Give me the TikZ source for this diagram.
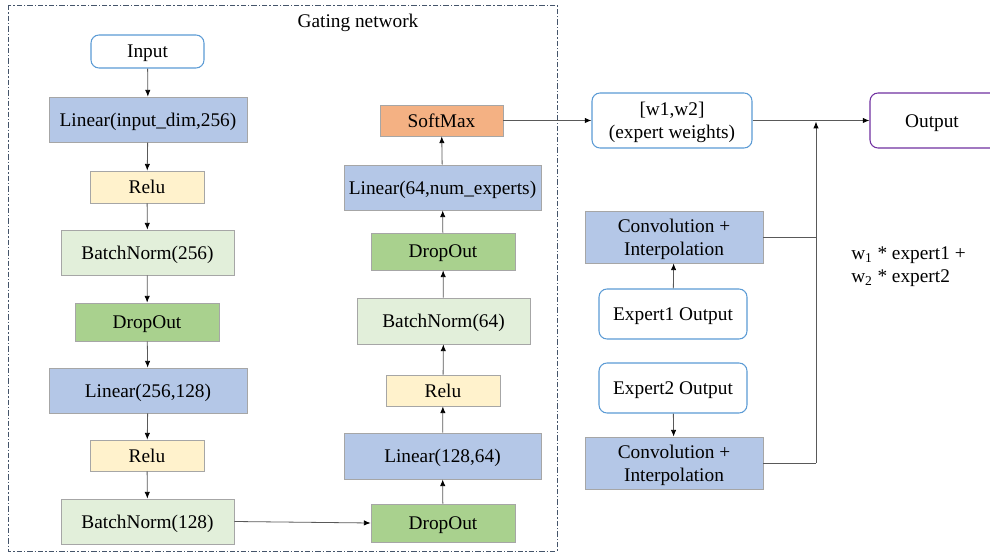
\documentclass[tikz,border=0pt]{standalone}
\usepackage{fontspec}
\setmainfont{Liberation Serif}
\newfontfamily\tnrfont{Liberation Serif}
\usetikzlibrary{arrows.meta}
\definecolor{cblue}{HTML}{B4C7E7}
\definecolor{cyellow}{HTML}{FFF2CC}
\definecolor{clgreen}{HTML}{E2EFDA}
\definecolor{cgreen}{HTML}{A9D18E}
\definecolor{corange}{HTML}{F4B183}
\definecolor{cborder}{HTML}{A6A6A6}
\definecolor{croundb}{HTML}{5B9BD5}
\definecolor{cpurple}{HTML}{7030A0}
\definecolor{cframe}{HTML}{44546A}
\tikzset{
  lbl/.style={font=\tnrfont\fontsize{14.5}{17.3}\selectfont, align=center, inner sep=0pt, text depth=0pt},
  boxf/.style={lbl, draw=cborder, line width=0.6pt},
  rbox/.style={lbl, draw=croundb, line width=0.8pt, rounded corners=6pt, fill=white},
  conn/.style={draw=black!65, line width=0.6pt, -{Latex[length=5pt,width=4pt,color=black]}},
  plain/.style={draw=black!65, line width=0.6pt},
}
\newcommand{\bx}[6]{\node[#6, minimum width=#3*0.75pt-#1*0.75pt, minimum height=#4*0.75pt-#2*0.75pt] (#5) at ({(#1+#3)/2},{(#2+#4)/2})}
\begin{document}
\begin{tikzpicture}[x=0.75pt,y=-0.75pt]
\useasboundingbox (0,0) rectangle (990,556);
% frame
\draw[cframe, line width=0.7pt, dash pattern=on 4pt off 1.5pt on 1pt off 1.5pt] (8,5) rectangle (557,551);
\node[lbl] (title) at (358,21) {Gating network};
% left column
\bx{91}{35}{204}{68}{in}{rbox} {Input};
\bx{49}{97}{247}{142}{l1}{boxf, fill=cblue} {Linear(input\_dim,256)};
\bx{90}{171}{204}{203}{r1}{boxf, fill=cyellow} {Relu};
\bx{61}{230}{234}{275}{b1}{boxf, fill=clgreen} {BatchNorm(256)};
\bx{75}{303}{219}{341}{d1}{boxf, fill=cgreen} {DropOut};
\bx{49}{368}{247}{413}{l2}{boxf, fill=cblue} {Linear(256,128)};
\bx{90}{440}{204}{471}{r2}{boxf, fill=cyellow} {Relu};
\bx{61}{499}{234}{544}{b2}{boxf, fill=clgreen} {BatchNorm(128)};
% right column
\bx{371}{504}{515}{542}{d2}{boxf, fill=cgreen} {DropOut};
\bx{344}{433}{541}{479}{l3}{boxf, fill=cblue} {Linear(128,64)};
\bx{386}{375}{500}{406}{r3}{boxf, fill=cyellow} {Relu};
\bx{357}{298}{530}{344}{b3}{boxf, fill=clgreen} {BatchNorm(64)};
\bx{371}{233}{515}{270}{d3}{boxf, fill=cgreen} {DropOut};
\bx{344}{165}{541}{210}{l4}{boxf, fill=cblue} {Linear(64,num\_experts)};
\bx{380}{105}{503}{136}{sm}{boxf, fill=corange} {SoftMax};
% right part
\bx{592}{93}{752}{148}{w}{rbox} {[w1,w2]\\(expert weights)};
\bx{870}{93}{1000}{148}{out}{rbox, draw=cpurple} {};
\node[lbl] (outt) at (932,121) {Output};
\bx{585}{211}{763}{263}{c1}{boxf, fill=cblue} {Convolution +\\Interpolation};
\bx{599}{289}{747}{339}{e1}{rbox} {Expert1 Output};
\bx{599}{363}{747}{413}{e2}{rbox} {Expert2 Output};
\bx{585}{437}{763}{489}{c2}{boxf, fill=cblue} {Convolution +\\Interpolation};
\node[lbl, align=left, anchor=west] (formula) at (851,265) {w\textsubscript{1} * expert1 +\\w\textsubscript{2} * expert2};
\coordinate (j) at (816,121);
\coordinate (j1) at (816,237);
\coordinate (j2) at (816,463);
% connectors
\draw[conn] (in) -- (l1);
\draw[conn] (l1) -- (r1);
\draw[conn] (r1) -- (b1);
\draw[conn] (b1) -- (d1);
\draw[conn] (d1) -- (l2);
\draw[conn] (l2) -- (r2);
\draw[conn] (r2) -- (b2);
\draw[conn] (b2.east) -- (d2.west);
\draw[conn] (d2) -- (l3);
\draw[conn] (l3) -- (r3);
\draw[conn] (r3) -- (b3);
\draw[conn] (b3) -- (d3);
\draw[conn] (d3) -- (l4);
\draw[conn] (l4) -- (sm);
\draw[conn] (sm.east) -- (sm.east -| w.west);
\draw[conn] (w.east) -- (out.west);
\draw[conn] (e1) -- (c1);
\draw[conn] (e2) -- (c2);
\draw[plain] (c1.east |- j1) -- (j1);
\draw[plain] (c2.east |- j2) -- (j2);
\draw[conn] (j2) -- ([yshift=-0.5pt]j);
\end{tikzpicture}
\end{document}
